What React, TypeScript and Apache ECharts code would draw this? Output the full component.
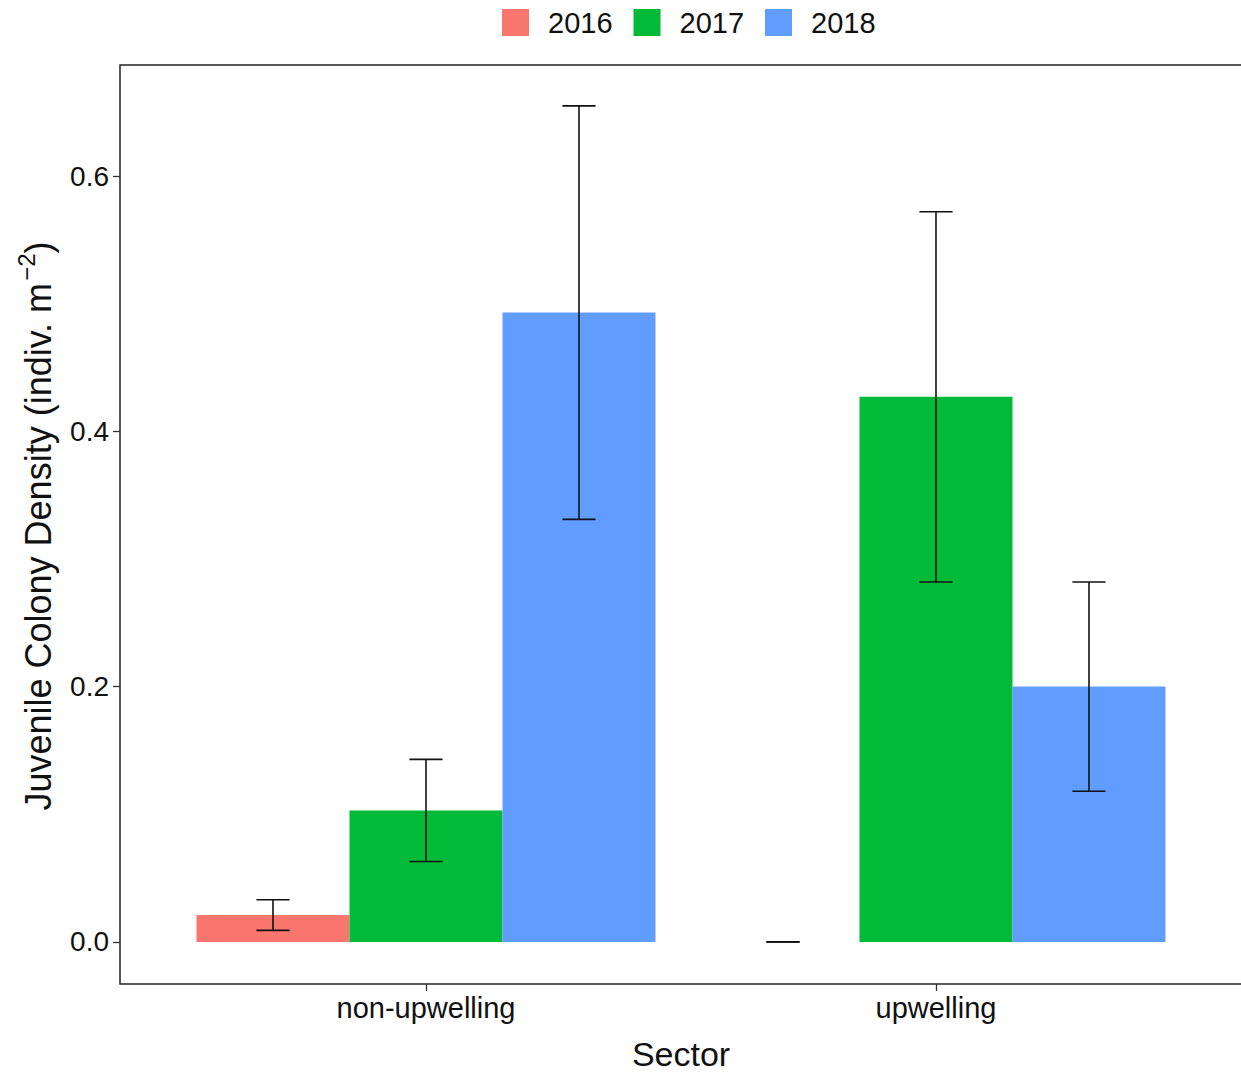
import React, { useEffect, useRef } from "react";
import * as echarts from "echarts";

// Juvenile colony density by sector and survey year (mean ± SE)
const categories = ["non-upwelling", "upwelling"];
const years = ["2016", "2017", "2018"];
const colors = ["#F8766D", "#00BA38", "#619CFF"];

const mean2016 = [0.021, 0.0];
const mean2017 = [0.103, 0.427];
const mean2018 = [0.493, 0.2];

const se2016 = [0.012, 0.0];
const se2017 = [0.04, 0.145];
const se2018 = [0.162, 0.082];

const yTicks = [0, 0.2, 0.4, 0.6];

const means = [mean2016, mean2017, mean2018];
const ses = [se2016, se2017, se2018];

const FONT = "'Liberation Sans', Arial, Helvetica, sans-serif";
const BAR_W = 0.3; // dodge width 0.9 split over three years
const CAP_W = 0.065;

export default function App() {
  const ref = useRef<HTMLDivElement>(null);

  useEffect(() => {
    if (!ref.current) return;
    const chart = echarts.init(ref.current, undefined, { renderer: "svg" });

    const series = years.map((yr, k) => ({
      type: "custom",
      name: yr,
      itemStyle: { color: colors[k] },
      encode: { x: 0, y: 1 },
      data: categories.map((_, i) => [i + 1, means[k][i], ses[k][i]]),
      renderItem: (params: any, api: any) => {
        const x = api.value(0) + (k - 1) * BAR_W;
        const m = api.value(1);
        const se = api.value(2);
        const p0 = api.coord([x - BAR_W / 2, 0]);
        const p1 = api.coord([x + BAR_W / 2, m]);
        const top = api.coord([x, m + se]);
        const bot = api.coord([x, m - se]);
        const cl = api.coord([x - CAP_W / 2, 0])[0];
        const cr = api.coord([x + CAP_W / 2, 0])[0];
        const err = { stroke: "#111", lineWidth: 1.6 };
        const children: any[] = [];
        if (p0[1] - p1[1] > 0) {
          children.push({
            type: "rect",
            shape: { x: p0[0], y: p1[1], width: p1[0] - p0[0], height: p0[1] - p1[1] },
            style: { fill: colors[k] },
          });
        }
        children.push(
          { type: "line", shape: { x1: top[0], y1: top[1], x2: bot[0], y2: bot[1] }, style: err },
          { type: "line", shape: { x1: cl, y1: top[1], x2: cr, y2: top[1] }, style: err },
          { type: "line", shape: { x1: cl, y1: bot[1], x2: cr, y2: bot[1] }, style: err }
        );
        return { type: "group", children };
      },
    }));

    chart.setOption({
      animation: false,
      backgroundColor: "#fff",
      textStyle: { fontFamily: FONT },
      legend: {
        data: years,
        left: 497,
        top: 3,
        icon: "rect",
        itemWidth: 27,
        itemHeight: 27,
        itemGap: 21,
        textStyle: { fontSize: 29, color: "#111", fontFamily: FONT, padding: [0, 0, 0, 14] },
      },
      grid: {
        left: 120,
        top: 65,
        width: 1125,
        height: 919,
        outerBoundsMode: "none",
        containLabel: false,
        show: true,
        borderColor: "#222",
        borderWidth: 1.5,
        backgroundColor: "#fff",
      },
      xAxis: {
        type: "value",
        min: 0.4,
        max: 2.6059,
        splitLine: { show: false },
        axisLine: { show: false, onZero: false },
        axisTick: {
          show: true,
          customValues: [1, 2],
          length: 7,
          lineStyle: { color: "#333", width: 1.3 },
        },
        axisLabel: {
          customValues: [1, 2],
          formatter: (v: number) => categories[Math.round(v) - 1] ?? "",
          fontSize: 29,
          color: "#111",
          fontFamily: FONT,
          margin: 9,
        },
      },
      yAxis: {
        type: "value",
        min: -0.033,
        max: 0.687,
        splitLine: { show: false },
        axisLine: { show: false, onZero: false },
        axisTick: {
          show: true,
          customValues: yTicks,
          length: 7,
          lineStyle: { color: "#333", width: 1.3 },
        },
        axisLabel: {
          customValues: yTicks,
          formatter: (v: number) => v.toFixed(1),
          fontSize: 28,
          color: "#111",
          fontFamily: FONT,
          margin: 11,
        },
      },
      graphic: [
        {
          type: "text",
          x: 681,
          y: 1054,
          style: {
            text: "Sector",
            fontSize: 34,
            fontFamily: FONT,
            fill: "#111",
            align: "center",
            verticalAlign: "middle",
          },
        },
        {
          type: "text",
          x: 38,
          y: 526,
          rotation: Math.PI / 2,
          style: {
            text: "{a|Juvenile Colony Density (indiv. m}{g| }{s|−2}{a|)}",
            align: "center",
            verticalAlign: "middle",
            fill: "#111",
            rich: {
              a: { fontSize: 36, fontFamily: FONT, lineHeight: 48, fill: "#111" },
              g: { fontSize: 8, fontFamily: FONT, lineHeight: 8 },
              s: { fontSize: 24, fontFamily: FONT, lineHeight: 24, verticalAlign: "top", fill: "#111" },
            },
          },
        },
      ],
      series,
    });

    return () => chart.dispose();
  }, []);

  return (
    <div
      ref={ref}
      style={{ position: "absolute", left: 0, top: 0, width: 1241, height: 1076, background: "#fff" }}
    />
  );
}
